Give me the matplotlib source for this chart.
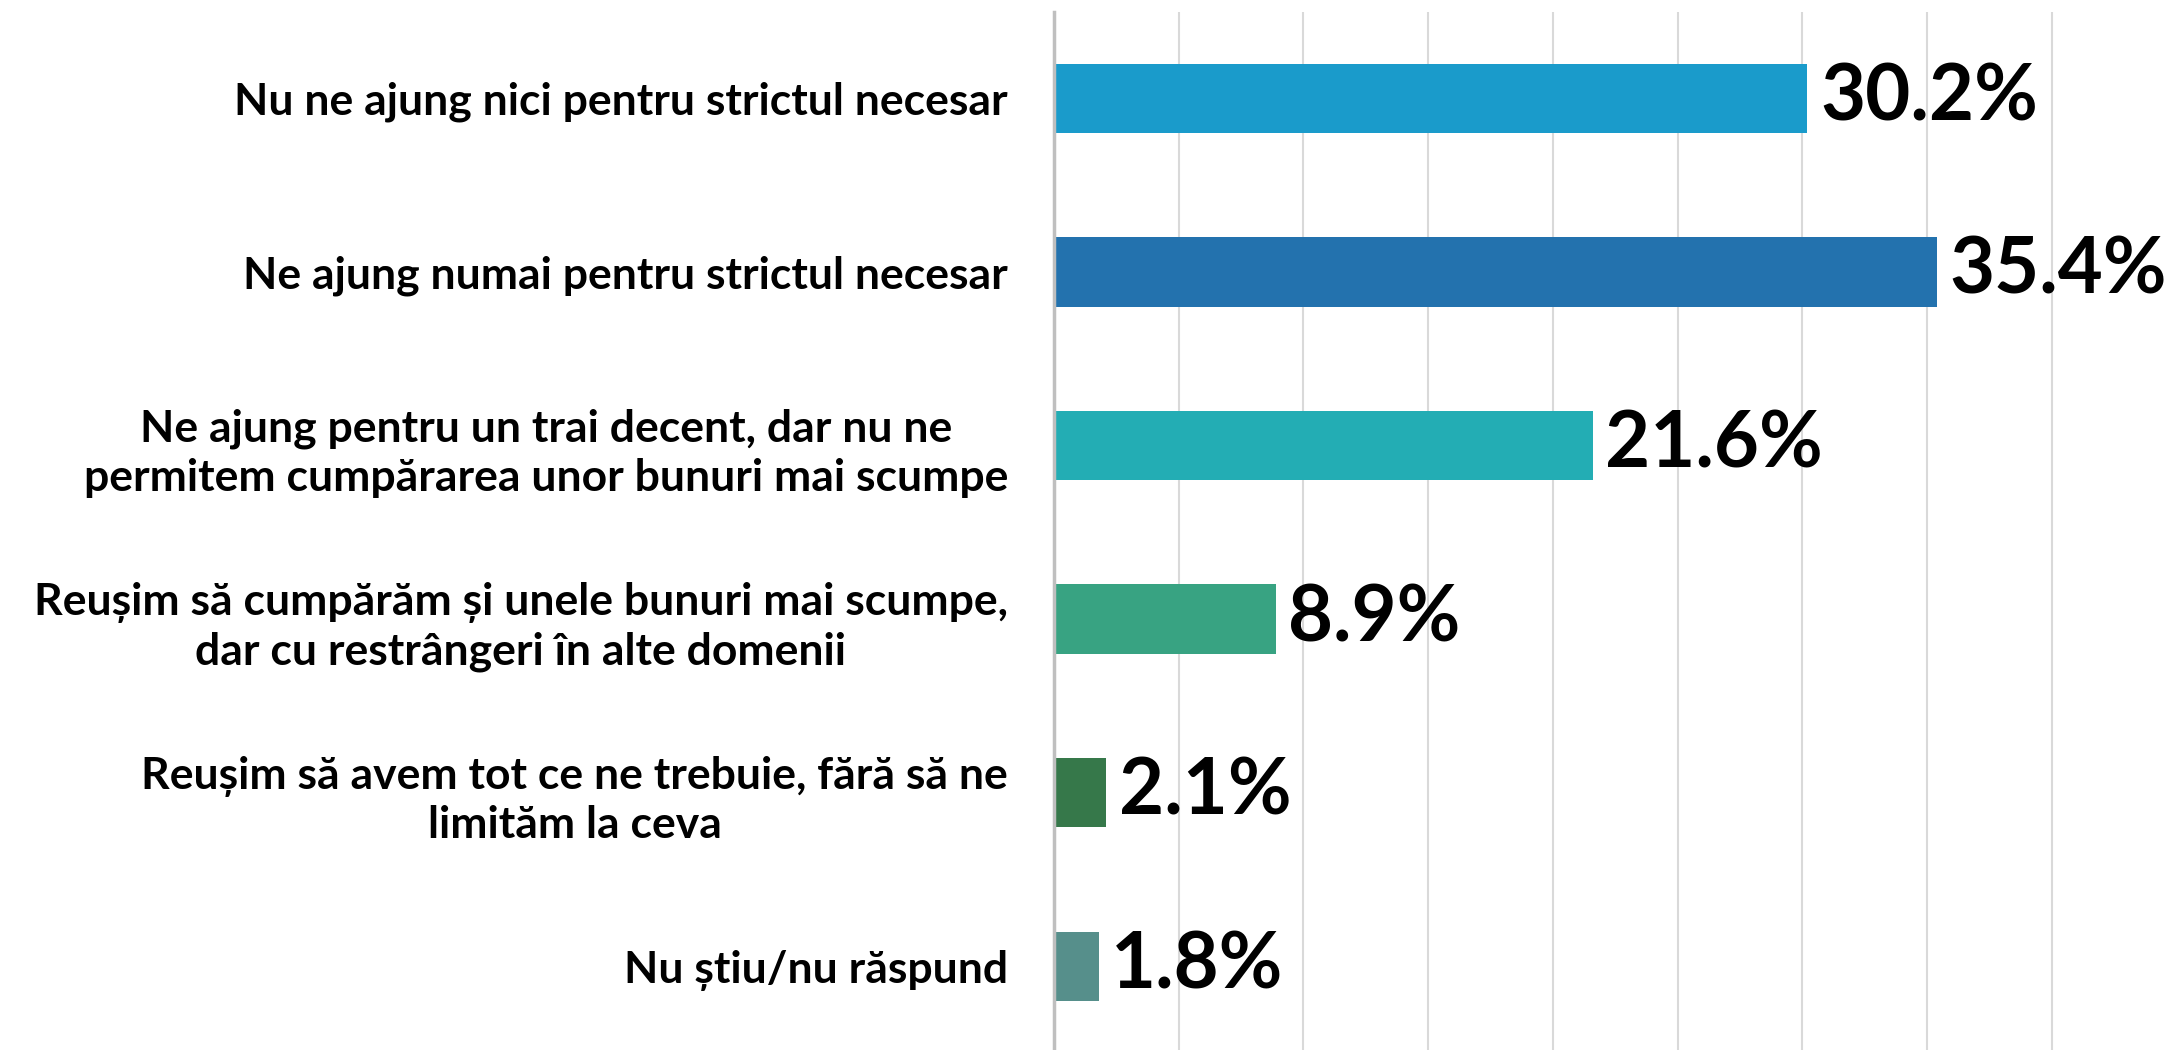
import matplotlib
matplotlib.use("Agg")
import matplotlib.pyplot as plt

categories = [
    "Nu ne ajung nici pentru strictul necesar",
    "Ne ajung numai pentru strictul necesar",
    "Ne ajung pentru un trai decent, dar nu ne\npermitem cumpărarea unor bunuri mai scumpe",
    "Reușim să cumpărăm și unele bunuri mai scumpe,\ndar cu restrângeri în alte domenii",
    "Reușim să avem tot ce ne trebuie, fără să ne\nlimităm la ceva",
    "Nu știu/nu răspund",
]
values = [30.2, 35.4, 21.6, 8.9, 2.1, 1.8]
colors = ["#1a9bcb", "#2372ae", "#23adb4", "#38a382", "#36784a", "#568f8b"]

plt.rcParams['font.family'] = ['Lato', 'DejaVu Sans']

fig = plt.figure(figsize=(21.74, 10.5), dpi=100)
ax = fig.add_axes([0.4847, -0.003, 0.5166, 0.992])

y = list(range(len(categories)))
ax.barh(y, values, height=0.4, color=colors, zorder=3)

for yi, v in zip(y, values):
    ax.text(v + 0.5, yi, f"{v}%", va='center', ha='left',
            fontsize=56, fontweight='bold', color='black', zorder=4)

ax.set_yticks(y)
ax.set_yticklabels(categories, fontsize=32, fontweight='bold', multialignment='center',
                   linespacing=1.25)
ax.tick_params(axis='y', length=0, pad=33)
ax.set_ylim(5.5, -0.5)

ax.set_xlim(0, 45)
ax.set_xticks([5, 10, 15, 20, 25, 30, 35, 40])
ax.tick_params(axis='x', length=0, labelbottom=False)
ax.grid(axis='x', color='#d9d9d9', linewidth=1.5, zorder=0)

for s in ['top', 'right', 'bottom']:
    ax.spines[s].set_visible(False)
ax.spines['left'].set_color('#bfbfbf')
ax.spines['left'].set_linewidth(2.5)
ax.spines['left'].set_zorder(5)

fig.savefig("out.png", dpi=100)
